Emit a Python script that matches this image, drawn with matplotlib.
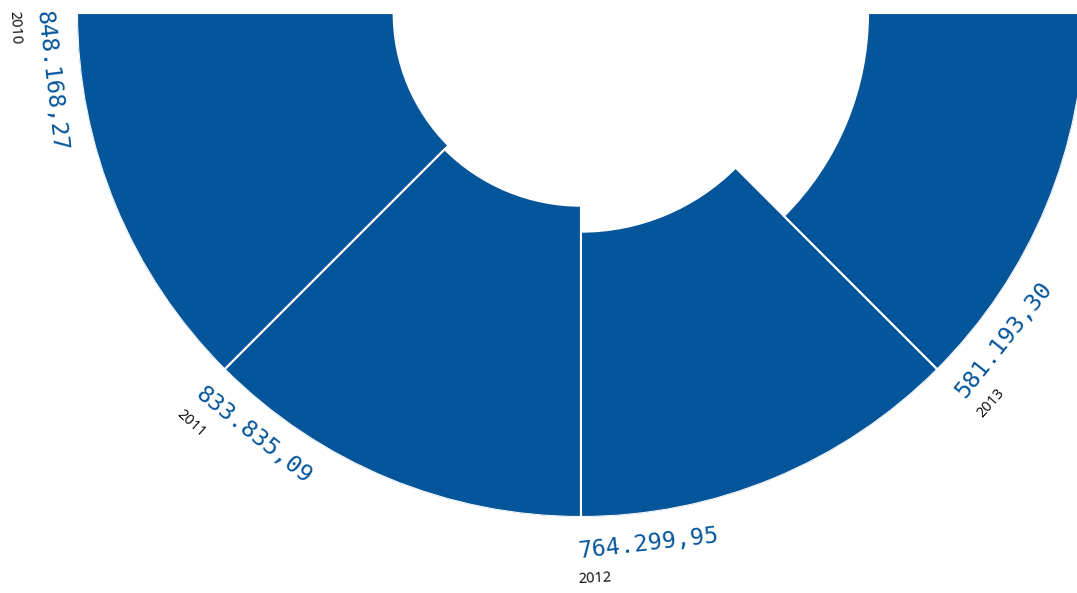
import numpy as np
import matplotlib
matplotlib.use("Agg")
import matplotlib.pyplot as plt

# data
years = ["2010", "2011", "2012", "2013"]
values = [848168.27, 833835.09, 764299.95, 581193.30]

BLUE = "#05559b"
R_MAX = 1350000  # outer radius in value units, bars hang inward from here


def fmt_de(v):
    # 848168.27 -> "848.168,27"
    s = f"{v:,.2f}"
    return s.replace(",", "X").replace(".", ",").replace("X", ".")


W, H = 1077, 593
fig = plt.figure(figsize=(W / 100, H / 100), dpi=100)

# centre of the half donut sits at the top edge of the picture
cx, cy, rad = 581, H - 13, 504
ax = fig.add_axes([(cx - rad) / W, (cy - rad) / H, 2 * rad / W, 2 * rad / H],
                  projection="polar")

# lower half circle split into equal slices
step = 180 / len(values)
for i, (yr, v) in enumerate(zip(years, values)):
    deg = 180 + step * i
    th = np.deg2rad(deg)
    ax.bar(th, v, width=np.deg2rad(step), bottom=R_MAX - v, align="edge",
           color=BLUE, edgecolor="white", linewidth=1.5)

    ax.text(np.deg2rad(deg - 0.4), R_MAX * 1.045, fmt_de(v),
            rotation=deg + 90 + 6.5, rotation_mode="anchor",
            ha="left", va="top",
            fontsize=16.8, family="DejaVu Sans Mono", color=BLUE)
    ax.text(np.deg2rad(deg - 0.3), R_MAX * 1.11, yr, rotation=deg + 90 + 3,
            rotation_mode="anchor", ha="left", va="top",
            fontsize=10.5, family="Open Sans", color="black")

ax.set_ylim(0, R_MAX)
ax.set_axis_off()

fig.savefig("out.png", dpi=100)
